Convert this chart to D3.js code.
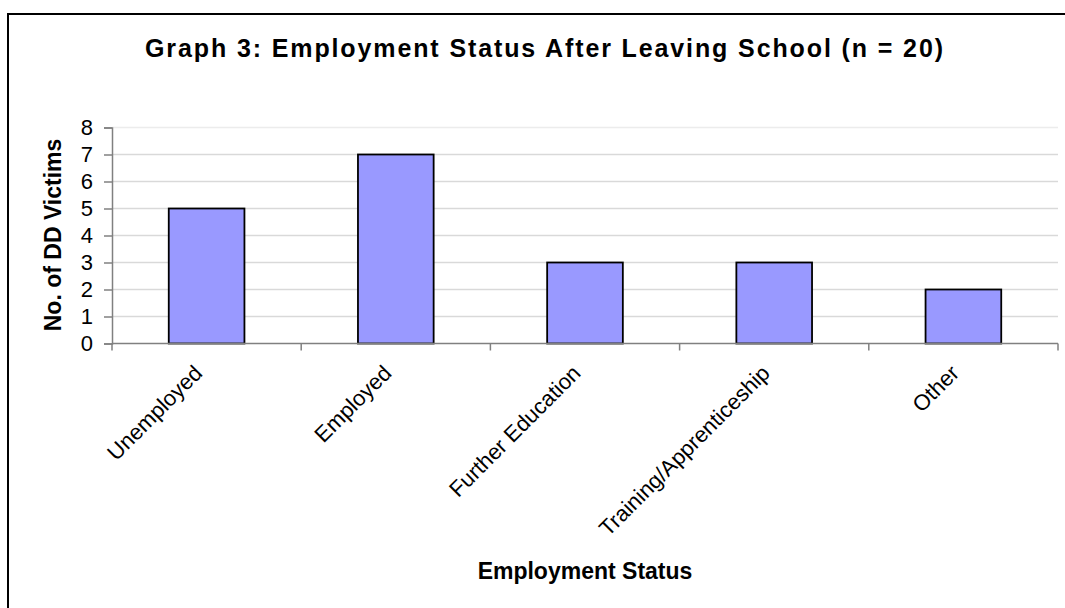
<!DOCTYPE html>
<html>
<head>
<meta charset="utf-8">
<script src="https://cdn.jsdelivr.net/npm/d3@7"></script>
<style>
  html, body { margin: 0; padding: 0; background: #ffffff; }
  svg { display: block; font-family: "Liberation Sans", Arial, sans-serif; }
</style>
</head>
<body>
<svg id="chart" width="1065" height="608"></svg>
<script>
const categories = ["Unemployed", "Employed", "Further Education", "Training/Apprenticeship", "Other"];
const values = [5, 7, 3, 3, 2];
const yTicks = [0, 1, 2, 3, 4, 5, 6, 7, 8];
const titleText = "Graph 3: Employment Status After Leaving School (n = 20)";
const xTitle = "Employment Status";
const yTitle = "No. of DD Victims";

const svg = d3.select("#chart");
const W = 1065, H = 608;
const plot = { left: 112, right: 1058, top: 127.5, bottom: 343.5 };

svg.append("rect").attr("width", W).attr("height", H).attr("fill", "#fff");
// frame (right and bottom edges fall outside the picture)
svg.append("rect")
  .attr("x", 8).attr("y", 14).attr("width", 1100).attr("height", 700)
  .attr("fill", "none").attr("stroke", "#000").attr("stroke-width", 2);

const x = d3.scaleBand().domain(categories)
  .range([plot.left, plot.right]).paddingInner(0.6).paddingOuter(0.3);
const y = d3.scaleLinear().domain([0, 8]).range([plot.bottom, plot.top]);

// gridlines
svg.append("g").selectAll("line").data(yTicks.filter(d => d > 0)).join("line")
  .attr("x1", plot.left).attr("x2", plot.right)
  .attr("y1", d => y(d)).attr("y2", d => y(d))
  .attr("stroke", d => d === 8 ? "#ececec" : "#d9d9d9").attr("stroke-width", 1.3);

// bars
svg.append("g").selectAll("rect").data(values).join("rect")
  .attr("x", (d, i) => x(categories[i]))
  .attr("y", d => y(d))
  .attr("width", x.bandwidth())
  .attr("height", d => y(0) - y(d))
  .attr("fill", "#9999ff").attr("stroke", "#000").attr("stroke-width", 1.8);

// y axis
const yAxis = d3.axisLeft(y).tickValues(yTicks).tickSize(8).tickPadding(11).tickFormat(d3.format("d"));
const gy = svg.append("g").attr("transform", `translate(${plot.left},0)`).call(yAxis);
gy.select(".domain").attr("stroke", "#808080").attr("stroke-width", 1.5);
gy.selectAll(".tick line").attr("stroke", "#808080").attr("stroke-width", 1.5);
gy.selectAll(".tick text").attr("font-size", 22).attr("fill", "#000")
  .attr("font-family", "Liberation Sans, Arial, sans-serif");

// x axis: tick marks at category boundaries
const step = x.step();
const boundaries = d3.range(categories.length + 1).map(i => plot.left + i * step);
const gx = svg.append("g");
gx.append("line").attr("x1", plot.left).attr("x2", plot.right)
  .attr("y1", plot.bottom).attr("y2", plot.bottom)
  .attr("stroke", "#808080").attr("stroke-width", 1.5);
gx.selectAll("line.tk").data(boundaries).join("line").attr("class", "tk")
  .attr("x1", d => d).attr("x2", d => d)
  .attr("y1", plot.bottom).attr("y2", plot.bottom + 7)
  .attr("stroke", "#808080").attr("stroke-width", 1.5);

// category labels rotated -45
svg.append("g").selectAll("text").data(categories).join("text")
  .attr("transform", d => `translate(${x(d) + x.bandwidth() / 2 - 3},${plot.bottom + 31}) rotate(-45)`)
  .attr("text-anchor", "end")
  .attr("font-size", 22).attr("fill", "#000")
  .text(d => d);

// title
svg.append("text")
  .attr("x", 544).attr("y", 57)
  .attr("text-anchor", "middle")
  .attr("font-size", 25).attr("font-weight", "bold")
  .attr("textLength", 798).attr("lengthAdjust", "spacing")
  .text(titleText);

// axis titles
svg.append("text")
  .attr("x", 585).attr("y", 579)
  .attr("text-anchor", "middle")
  .attr("font-size", 23).attr("font-weight", "bold")
  .text(xTitle);

svg.append("text")
  .attr("transform", `translate(61,235) rotate(-90)`)
  .attr("text-anchor", "middle")
  .attr("font-size", 23).attr("font-weight", "bold")
  .text(yTitle);
</script>
</body>
</html>
